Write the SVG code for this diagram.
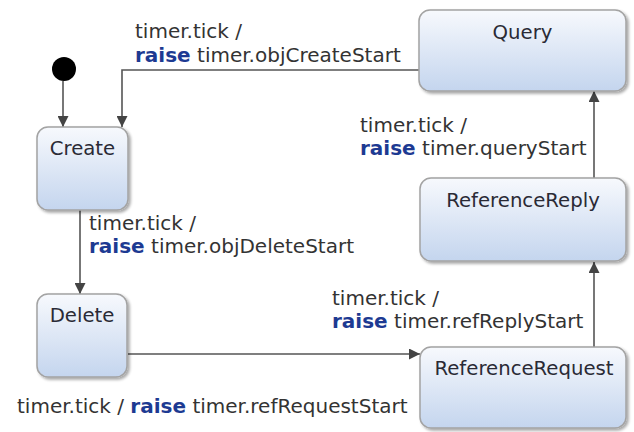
<svg xmlns="http://www.w3.org/2000/svg" width="634" height="432" viewBox="0 0 634 432">
  <defs>
    <linearGradient id="stateFill" x1="0" y1="0" x2="0" y2="1">
      <stop offset="0" stop-color="#f7f9fd"/>
      <stop offset="1" stop-color="#c4d5ee"/>
    </linearGradient>
    <filter id="shadow" x="-10%" y="-10%" width="125%" height="130%">
      <feGaussianBlur in="SourceAlpha" stdDeviation="1.5"/>
      <feOffset dx="1.5" dy="2" result="b"/>
      <feComponentTransfer><feFuncA type="linear" slope="0.35"/></feComponentTransfer>
      <feMerge><feMergeNode/><feMergeNode in="SourceGraphic"/></feMerge>
    </filter>
    <marker id="arrow" viewBox="0 0 10 10" refX="10" refY="5" markerWidth="11" markerHeight="11" markerUnits="userSpaceOnUse" orient="auto">
      <path d="M0,0 L10,5 L0,10 z" fill="#444"/>
    </marker>
  </defs>
  <style>
    .state { fill: url(#stateFill); stroke: #a3a3a3; stroke-width: 1.5; filter: url(#shadow); }
    .name { font-family: "DejaVu Sans", sans-serif; font-size: 19.7px; fill: #2a2a35; text-anchor: middle; }
    .lbl { font-family: "DejaVu Sans", sans-serif; font-size: 20px; fill: #333; }
    .kw { font-weight: bold; fill: #1d3a92; }
    .edge { fill: none; stroke: #555; stroke-width: 1.6; marker-end: url(#arrow); }
  </style>
  <rect width="634" height="432" fill="#fff"/>

  <g id="connectors">
    <path class="edge" d="M63,81 V127"/>
    <path class="edge" d="M419,70 H122 V127"/>
    <path class="edge" d="M80,210 V294"/>
    <path class="edge" d="M128,354 H420"/>
    <path class="edge" d="M594,347 V262"/>
    <path class="edge" d="M594,178 V91"/>
  </g>

  <g id="initial">
    <circle cx="64" cy="69" r="12" fill="#000"/>
  </g>

  <g id="Create">
    <rect class="state" x="37" y="127" width="91" height="83" rx="11"/>
    <text class="name" x="82.5" y="155">Create</text>
  </g>
  <g id="Delete">
    <rect class="state" x="37" y="294" width="90" height="83" rx="11"/>
    <text class="name" x="82" y="322">Delete</text>
  </g>
  <g id="Query">
    <rect class="state" x="419" y="10" width="207" height="81" rx="11"/>
    <text class="name" x="522.5" y="39">Query</text>
  </g>
  <g id="ReferenceReply">
    <rect class="state" x="420" y="178" width="206" height="83" rx="11"/>
    <text class="name" x="523" y="207">ReferenceReply</text>
  </g>
  <g id="ReferenceRequest">
    <rect class="state" x="420" y="347" width="206" height="81" rx="11"/>
    <text class="name" x="524" y="375">ReferenceRequest</text>
  </g>

  <g id="labels">
    <text class="lbl" x="135" y="37.5">timer.tick /</text>
    <text class="lbl" x="135" y="61.5"><tspan class="kw">raise</tspan> timer.objCreateStart</text>
    <text class="lbl" x="360" y="132">timer.tick /</text>
    <text class="lbl" x="360" y="155"><tspan class="kw">raise</tspan> timer.queryStart</text>
    <text class="lbl" x="89" y="230">timer.tick /</text>
    <text class="lbl" x="89" y="253"><tspan class="kw">raise</tspan> timer.objDeleteStart</text>
    <text class="lbl" x="332" y="305">timer.tick /</text>
    <text class="lbl" x="332" y="328"><tspan class="kw">raise</tspan> timer.refReplyStart</text>
    <text class="lbl" x="17" y="413">timer.tick / <tspan class="kw">raise</tspan> timer.refRequestStart</text>
  </g>
</svg>
